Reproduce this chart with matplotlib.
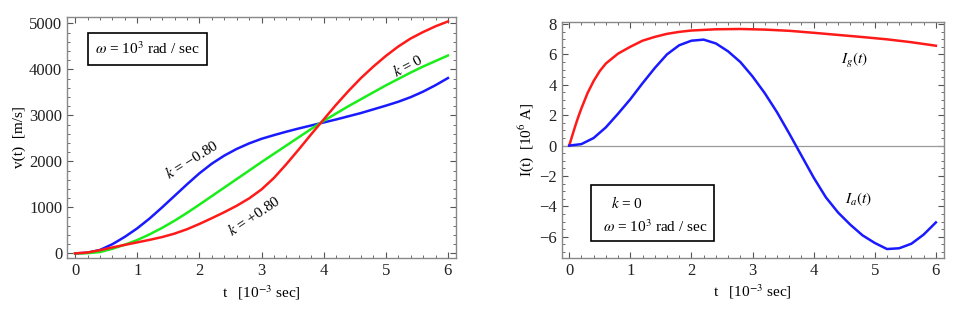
import numpy as np
import matplotlib
matplotlib.use('Agg')
import matplotlib.pyplot as plt
from matplotlib.patches import Rectangle
from matplotlib.ticker import MultipleLocator

plt.rcParams['font.family'] = ['Liberation Serif', 'DejaVu Serif']
plt.rcParams['mathtext.fontset'] = 'stix'

# time axis [10^-3 sec]
t = [0, .2, .4, .6, .8, 1, 1.2, 1.4, 1.6, 1.8, 2, 2.2, 2.4, 2.6, 2.8, 3,
     3.2, 3.4, 3.6, 3.8, 4, 4.2, 4.4, 4.6, 4.8, 5, 5.2, 5.4, 5.6, 5.8, 6]

# velocity [m/s] for three k values
v_k_neg = [0, 15, 75, 200, 360, 545, 760, 1000, 1250, 1500, 1740, 1950, 2125,
           2270, 2390, 2490, 2570, 2645, 2715, 2780, 2845, 2910, 2980, 3050,
           3130, 3210, 3295, 3395, 3515, 3655, 3810]
v_k_zero = [0, 5, 30, 100, 190, 290, 415, 555, 710, 880, 1060, 1245, 1430,
            1615, 1800, 1985, 2165, 2345, 2525, 2705, 2880, 3040, 3200, 3350,
            3500, 3650, 3790, 3930, 4060, 4180, 4300]
v_k_pos = [0, 20, 70, 130, 185, 240, 295, 355, 430, 525, 640, 765, 895,
           1035, 1195, 1390, 1640, 1940, 2260, 2590, 2910, 3230, 3530, 3810,
           4060, 4290, 4495, 4670, 4810, 4935, 5040]

# currents [10^6 A]
t_g = [0, .05, .1, .15, .2, .3, .4, .5, .6, .8, 1, 1.2, 1.4, 1.6, 1.8, 2,
       2.4, 2.8, 3.2, 3.6, 4, 4.4, 4.8, 5.2, 5.6, 6]
I_g = [0, 0.65, 1.3, 1.9, 2.45, 3.45, 4.25, 4.9, 5.4, 6.05, 6.5, 6.9, 7.15,
       7.35, 7.48, 7.57, 7.65, 7.67, 7.63, 7.55, 7.42, 7.28, 7.14, 6.99,
       6.8, 6.57]
I_a = [0, 0.1, 0.5, 1.2, 2.1, 3.05, 4.1, 5.1, 6.0, 6.6, 6.9, 6.97, 6.72,
       6.2, 5.5, 4.55, 3.45, 2.2, 0.8, -0.65, -2.1, -3.4, -4.4, -5.2, -5.9,
       -6.4, -6.8, -6.75, -6.45, -5.85, -5.05]

RED, GREEN, BLUE = '#ff1a1a', '#1aee1a', '#1a1aff'
FS = 11
TFS = 12
LW = 1.8

fig = plt.figure(figsize=(9.55, 3.13), dpi=100)
ax1 = fig.add_axes([0.0702, 0.1757, 0.4073, 0.770])
ax2 = fig.add_axes([0.588, 0.1767, 0.4003, 0.754])


def style(ax):
    for s in ax.spines.values():
        s.set_color('#888888')
        s.set_linewidth(1.0)
    ax.tick_params(which='both', direction='in', top=True, right=True,
                   colors='#555555', labelcolor='#222222', labelsize=TFS)
    ax.tick_params(which='major', length=4)
    ax.tick_params(which='minor', length=2)
    ax.xaxis.set_major_locator(MultipleLocator(1))
    ax.xaxis.set_minor_locator(MultipleLocator(0.2))


# left: velocity
ax1.plot(t, v_k_neg, color=BLUE, lw=LW)
ax1.plot(t, v_k_zero, color=GREEN, lw=LW)
ax1.plot(t, v_k_pos, color=RED, lw=LW)
ax1.set_xlim(-0.13, 6.13)
ax1.set_ylim(-100, 5137)
style(ax1)
ax1.yaxis.set_major_locator(MultipleLocator(1000))
ax1.yaxis.set_minor_locator(MultipleLocator(200))
ax1.set_ylabel('v(t)  [m/s]', fontsize=FS, labelpad=2)
ax1.set_xlabel('t   [10$^{-3}$ sec]', fontsize=FS, labelpad=3)

ax1.text(1.88, 2040, '$k$ = \u22120.80', rotation=32, fontsize=FS,
         ha='center', va='center')
ax1.text(2.87, 833, '$k$ = +0.80', rotation=34, fontsize=FS,
         ha='center', va='center')
ax1.text(5.36, 4094, '$k$ = 0', rotation=28, fontsize=FS,
         ha='center', va='center')
ax1.add_patch(Rectangle((0.054, 0.80), 0.306, 0.134, transform=ax1.transAxes,
                        fill=False, ec='black', lw=1.2))
ax1.text(0.207, 0.867, '$\\omega$ = 10$^3$ rad / sec', transform=ax1.transAxes,
         fontsize=FS, ha='center', va='center')

# right: currents
ax2.axhline(0, color='#999999', lw=0.9)
ax2.plot(t_g, I_g, color=RED, lw=LW)
ax2.plot(t, I_a, color=BLUE, lw=LW)
ax2.set_xlim(-0.125, 6.13)
ax2.set_ylim(-7.37, 8.15)
style(ax2)
ax2.yaxis.set_minor_locator(MultipleLocator(0.5))
ax2.set_yticks([-6, -4, -2, 0, 2, 4, 6, 8])
ax2.set_yticklabels(['\u22126', '\u22124', '\u22122', '0', '2', '4', '6', '8'])
ax2.set_ylabel('I(t)  [10$^6$ A]', fontsize=FS, labelpad=2)
ax2.set_xlabel('t   [10$^{-3}$ sec]', fontsize=FS, labelpad=3)

ax2.text(4.66, 5.57, '$I_g(t)$', fontsize=FS, ha='center', va='center')
ax2.text(4.73, -3.5, '$I_a(t)$', fontsize=FS, ha='center', va='center')
ax2.add_patch(Rectangle((0.078, 0.071), 0.321, 0.237, transform=ax2.transAxes,
                        fill=False, ec='black', lw=1.2))
ax2.text(0.13, 0.23, '$k$ = 0', transform=ax2.transAxes, fontsize=FS,
         ha='left', va='center')
ax2.text(0.245, 0.13, '$\\omega$ = 10$^3$ rad / sec', transform=ax2.transAxes,
         fontsize=FS, ha='center', va='center')

fig.savefig('out.png', dpi=100)
